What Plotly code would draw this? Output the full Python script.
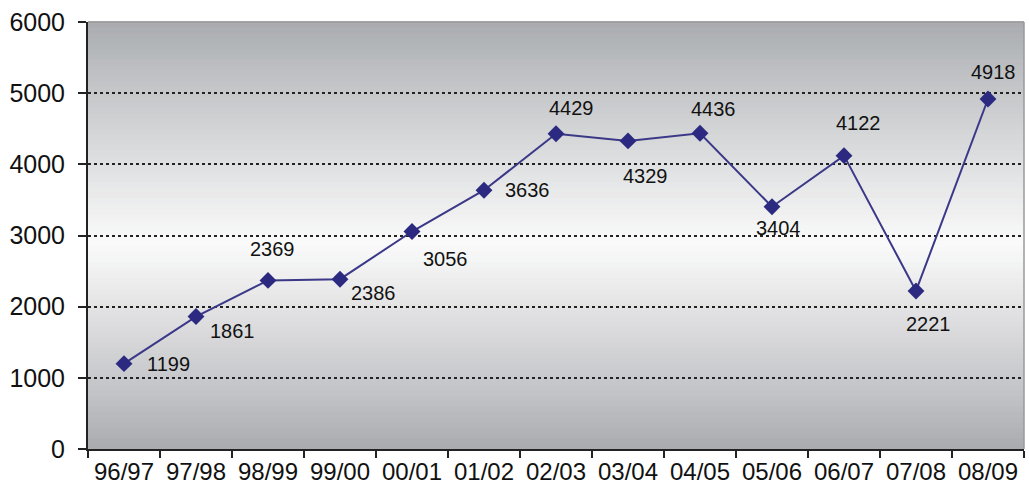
import plotly.graph_objects as go

seasons = ["96/97", "97/98", "98/99", "99/00", "00/01", "01/02", "02/03",
           "03/04", "04/05", "05/06", "06/07", "07/08", "08/09"]
values = [1199, 1861, 2369, 2386, 3056, 3636, 4429, 4329, 4436, 3404, 4122, 2221, 4918]
# label offsets in pixels (style): (dx, dy) with dy positive downward
label_dx = [44, 36, 4, 33, 33, 43, 15, 17, 13, 6, 14, 12, 5]
label_dy = [0, 14, -31, 14, 27, 0, -26, 35, -24, 21, -33, 33, -27]
y_ticks = [0, 1000, 2000, 3000, 4000, 5000, 6000]

FONT = "Liberation Sans, Arial"

fig = go.Figure()
fig.add_trace(go.Scatter(
    x=seasons, y=values, mode="lines+markers",
    line=dict(color="#3b3888", width=2),
    marker=dict(symbol="diamond", size=13, color="#2c2a80"),
    cliponaxis=False, showlegend=False,
))

annotations = []
for s, v, dx, dy in zip(seasons, values, label_dx, label_dy):
    annotations.append(dict(x=s, y=v, xref="x", yref="y", text=str(v), showarrow=False,
                            xshift=dx, yshift=-dy,
                            font=dict(family=FONT, size=20, color="#111111")))

# vertical grey gradient background (dark top/bottom, light middle)
shapes = []
n = 80
top = (168, 171, 175)
mid = (250, 250, 250)
bot = (168, 170, 174)
center = 0.48
for i in range(n):
    y0 = i / n
    y1 = (i + 1) / n
    yc = (y0 + y1) / 2
    if yc < center:
        t = yc / center
        c0, c1 = bot, mid
    else:
        t = (1 - yc) / (1 - center)
        c0, c1 = top, mid
    t = t ** 0.9
    col = tuple(int(round(c0[k] + (c1[k] - c0[k]) * t)) for k in range(3))
    shapes.append(dict(type="rect", xref="paper", yref="paper", x0=0, x1=1,
                       y0=y0, y1=y1 + 0.002, fillcolor="rgb(%d,%d,%d)" % col,
                       line=dict(width=0), layer="below"))
shapes.append(dict(type="line", xref="paper", yref="paper", x0=0, x1=1, y0=1, y1=1,
                   line=dict(color="#9a9a9a", width=1.5)))
shapes.append(dict(type="line", xref="paper", yref="paper", x0=1, x1=1, y0=0, y1=1,
                   line=dict(color="#9a9a9a", width=1.5)))

fig.update_layout(
    width=1029, height=499,
    margin=dict(l=88, r=5, t=22, b=50),
    paper_bgcolor="white", plot_bgcolor="rgba(0,0,0,0)",
    shapes=shapes, annotations=annotations,
    font=dict(family=FONT, color="#111111"),
    xaxis=dict(
        showgrid=False, showline=True, linecolor="#222222", linewidth=2,
        ticks="outside", tickson="boundaries", ticklen=7, tickwidth=2, tickcolor="#222222",
        tickfont=dict(size=24), range=[-0.5, 12.5], zeroline=False, automargin=False,
    ),
    yaxis=dict(
        range=[0, 6000], tickvals=y_ticks, showline=True, linecolor="#222222", linewidth=2,
        ticks="outside", ticklen=8, tickwidth=2, tickcolor="#222222",
        tickfont=dict(size=25), showgrid=True, gridcolor="#222222", gridwidth=1.5,
        griddash="3px,3px", zeroline=False, automargin=False, ticklabelstandoff=8,
    ),
)

fig.write_html("out.html", config={"displayModeBar": False},
               post_script="document.body.style.margin='0px';document.body.style.overflow='hidden';")
